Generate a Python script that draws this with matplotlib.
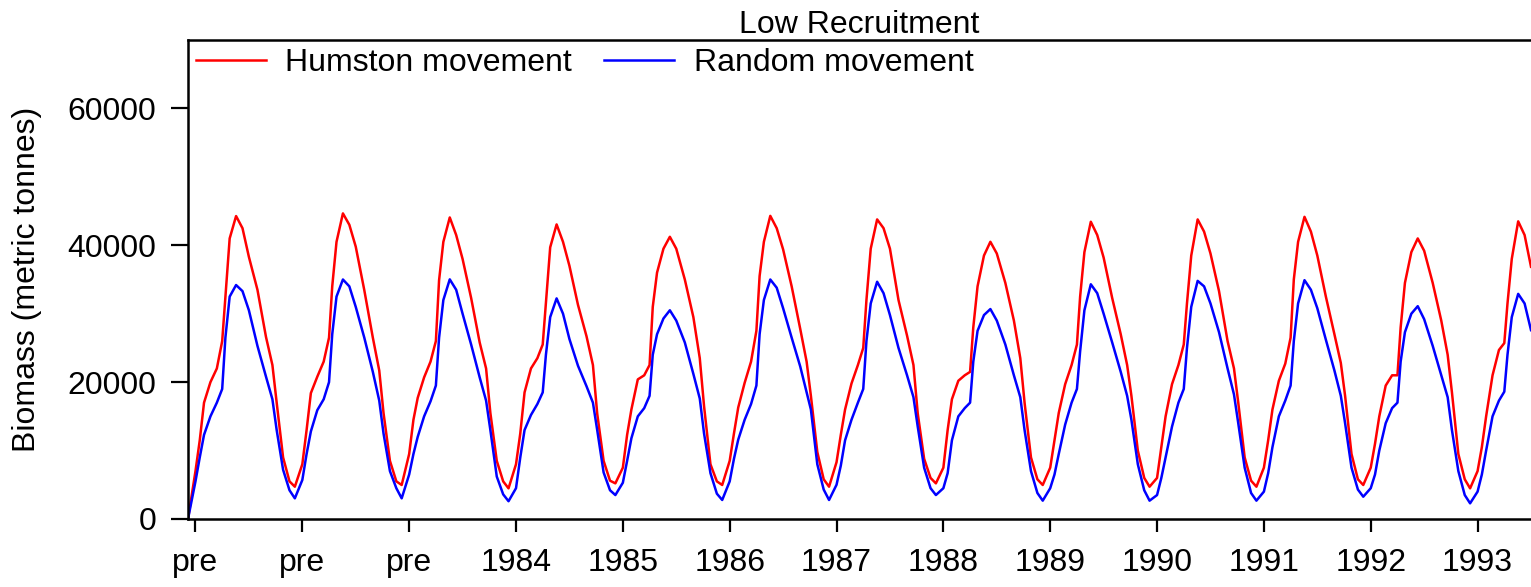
import matplotlib
matplotlib.use("Agg")
import matplotlib.pyplot as plt
import numpy as np

plt.rcParams['font.family'] = ['Liberation Sans', 'DejaVu Sans']

# sampling points within each year (fraction of a year from the year tick)
phase = [-0.07, 0.0, 0.04, 0.08, 0.14, 0.20, 0.25, 0.28, 0.32, 0.38,
         0.44, 0.50, 0.58, 0.66, 0.72, 0.76, 0.82, 0.88]

years = list(range(1981, 1994))
year_labels = ['pre', 'pre', 'pre', '1984', '1985', '1986', '1987',
               '1988', '1989', '1990', '1991', '1992', '1993']

# biomass (t) for Humston movement, one row per year
humston = [
    [0, 7000, 11500, 17000, 20000, 22000, 26000, 32500, 41000, 44270, 42500, 38300, 33500, 26600, 22500, 17000, 9000, 5500],
    [4720, 8000, 13000, 18400, 20790, 23000, 26500, 34000, 40500, 44660, 43000, 39800, 33450, 26500, 21700, 15500, 8500, 5500],
    [4970, 9500, 14500, 17700, 20700, 23000, 26000, 34900, 40500, 44070, 41500, 38000, 32300, 25800, 22000, 15500, 8500, 5500],
    [4480, 8000, 12500, 18500, 22000, 23500, 25500, 31500, 39700, 43050, 40500, 37000, 31300, 26700, 22500, 15400, 8500, 5600],
    [5210, 7500, 12300, 16000, 20400, 21000, 22500, 31000, 36000, 39500, 41240, 39500, 35000, 29500, 23500, 16500, 8000, 5500],
    [4970, 8500, 12500, 16300, 19900, 23000, 27500, 35500, 40500, 44300, 42500, 39400, 34000, 27800, 23000, 18000, 9800, 5800],
    [4720, 8300, 12300, 16000, 19800, 22500, 25000, 32000, 39500, 43780, 42500, 39500, 32000, 26800, 22500, 15430, 8800, 6000],
    [5210, 7500, 13000, 17500, 20200, 21000, 21500, 28000, 34000, 38500, 40510, 38800, 34500, 29000, 23500, 17000, 9000, 5800],
    [4970, 7500, 11500, 15500, 19700, 22500, 25500, 32500, 39000, 43440, 41500, 38200, 32300, 27000, 22500, 18000, 10000, 6000],
    [4720, 6000, 10500, 15000, 19700, 22500, 25500, 31500, 38500, 43780, 42000, 38800, 33300, 26000, 22000, 17000, 9000, 5600],
    [4720, 7500, 11500, 16000, 20200, 22700, 26500, 35000, 40500, 44160, 42000, 38500, 32500, 27000, 22800, 18000, 9500, 5800],
    [4970, 7500, 11000, 15000, 19500, 21000, 21000, 28000, 34500, 39000, 41000, 39200, 34500, 29000, 24000, 18500, 9500, 5800],
    [4480, 7000, 10500, 15000, 21000, 24700, 25700, 31500, 38000, 43500, 41500, 36860],
]

# biomass (t) for random movement, one row per year
random_mv = [
    [0, 5500, 9000, 12300, 15000, 17000, 19000, 26500, 32500, 34190, 33300, 30500, 25300, 20800, 17500, 13000, 7200, 4200],
    [3020, 5700, 9500, 12800, 15900, 17500, 20000, 27000, 32500, 35000, 34000, 31000, 26500, 21500, 17300, 12500, 7000, 4500],
    [3020, 6500, 9500, 12000, 15000, 17200, 19500, 26500, 32000, 35020, 33500, 30000, 25500, 20700, 17300, 13000, 6200, 3600],
    [2600, 4500, 9000, 13000, 15200, 16800, 18500, 24000, 29500, 32240, 30000, 26300, 22400, 19400, 17000, 13000, 6800, 4200],
    [3500, 5300, 8500, 11800, 15000, 16200, 18000, 24000, 27000, 29300, 30500, 29000, 25800, 21200, 17600, 12500, 6700, 3700],
    [2780, 5500, 8800, 11600, 14500, 16800, 19500, 27000, 32000, 35000, 33800, 30800, 26500, 22300, 18500, 16000, 8000, 4300],
    [2780, 5000, 7800, 11500, 14500, 17000, 19000, 26000, 31500, 34670, 33000, 29800, 25000, 21000, 17800, 13500, 7500, 4500],
    [3500, 4500, 6700, 11500, 15000, 16200, 17000, 23000, 27500, 29800, 30680, 29000, 25500, 21000, 17800, 13000, 7000, 3800],
    [2680, 4500, 6500, 9500, 13800, 17000, 19000, 24500, 30500, 34300, 33000, 30000, 25800, 21500, 18000, 14500, 8000, 4200],
    [2680, 3500, 6000, 9000, 13500, 17000, 19000, 25000, 31000, 34800, 34000, 31500, 27300, 22000, 18200, 14000, 7500, 3800],
    [2680, 4000, 6700, 10500, 15000, 17300, 19500, 26000, 31500, 34900, 33500, 30800, 26200, 21700, 18000, 14000, 7500, 4300],
    [3260, 4500, 6500, 10000, 14000, 16200, 17000, 23000, 27300, 30000, 31100, 29200, 25300, 21000, 17800, 13000, 7000, 3500],
    [2290, 4000, 6500, 10000, 15000, 17300, 18600, 24000, 29500, 32900, 31500, 27600],
]


def flatten(rows):
    t, v = [], []
    for yr, row in zip(years, rows):
        t.extend(yr + p for p in phase[:len(row)])
        v.extend(row)
    return np.array(t), np.array(v)


t_h, b_h = flatten(humston)
t_r, b_r = flatten(random_mv)

fig = plt.figure(figsize=(15.31, 5.87), dpi=100)
ax = fig.add_axes([188 / 1531, 1 - 519 / 587, 1 - 188 / 1531, (519 - 40) / 587])

ax.plot(t_h, b_h, color='#ff0000', lw=1.8, label='Humston movement')
ax.plot(t_r, b_r, color='#0000ff', lw=1.8, label='Random movement')

ax.set_xlim(1980.93, 1993.5)
ax.set_ylim(0, 70000)
ax.set_xticks(years)
ax.set_xticklabels(year_labels)
ax.set_yticks([0, 20000, 40000, 60000])

for s in ['left', 'top', 'bottom']:
    ax.spines[s].set_linewidth(1.8)
ax.spines['right'].set_visible(False)
ax.tick_params(axis='y', direction='out', length=12, width=1.6, labelsize=23, pad=11)
ax.tick_params(axis='x', direction='out', length=9, width=1.6, labelsize=23, pad=12)

ax.set_ylabel('Biomass (metric tonnes)', fontsize=23, labelpad=18)
ax.set_title('Low Recruitment', fontsize=23, pad=5)

ax.legend(loc='upper left', ncol=2, frameon=False, fontsize=23,
          handlelength=2.2, handletextpad=0.6, columnspacing=1.0,
          borderaxespad=0.15, borderpad=0.1)

fig.savefig('out.png', dpi=100)
